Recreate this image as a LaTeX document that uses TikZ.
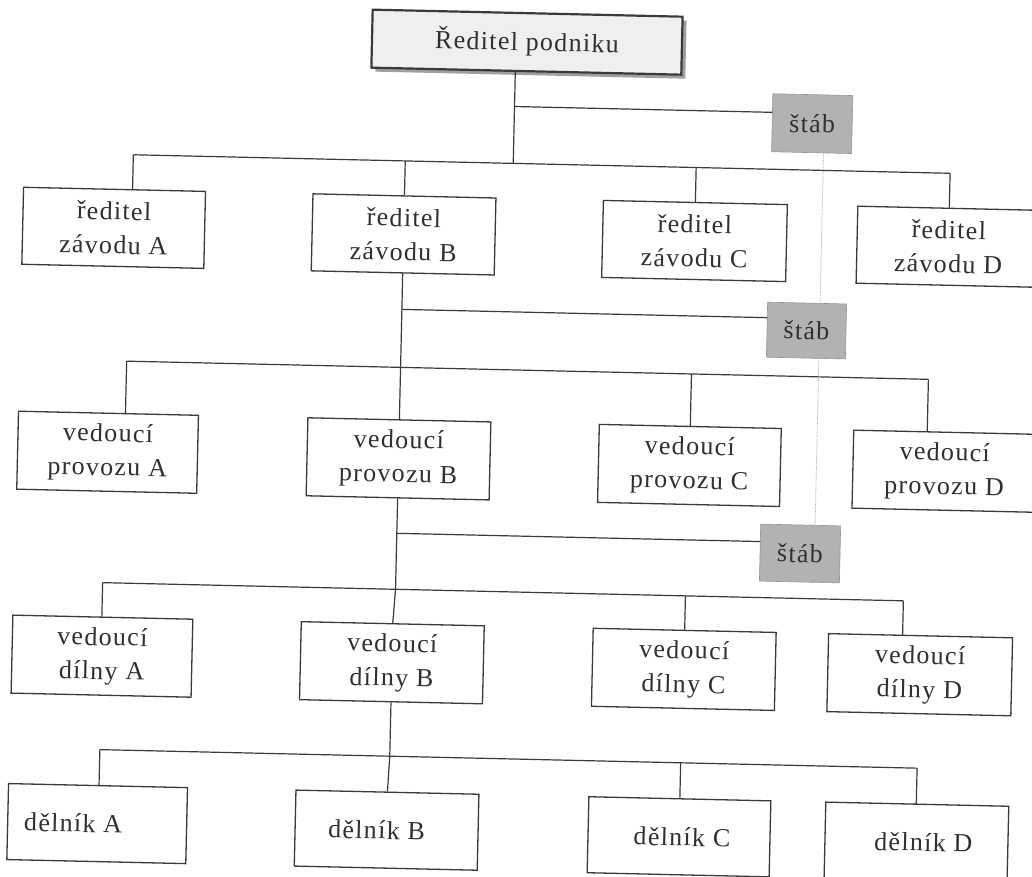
\documentclass[tikz,border=0pt]{standalone}
\usepackage{fontspec}
\setmainfont[LetterSpace=5]{Liberation Serif}
\usetikzlibrary{shadows}
\definecolor{ink}{HTML}{3A3A3A}
\definecolor{txt}{HTML}{303030}
\definecolor{stabfill}{HTML}{B2B2B2}
\definecolor{topfill}{HTML}{EFEFEF}
\tikzset{
  unit/.style={rectangle, draw=ink, line width=1.3pt, fill=white, inner sep=0pt,
    align=center, text=txt, font=\fontsize{26}{34}\selectfont},
  stabbox/.style={rectangle, fill=stabfill, draw=stabfill!85!black, line width=0.6pt,
    inner sep=0pt, text=txt, font=\fontsize{26}{30}\selectfont},
  topbox/.style={rectangle, draw=ink, line width=2.2pt, fill=topfill, inner sep=0pt,
    text=txt, font=\fontsize{26}{30}\selectfont,
    drop shadow={shadow xshift=4pt, shadow yshift=-4pt, fill=gray!75, opacity=1}},
  conn/.style={draw=ink, line width=1.2pt},
  dotline/.style={draw=gray!70, densely dotted, line width=0.8pt}
}
\newcommand{\shiftx}[1]{\hspace*{#1}}
\begin{document}
\begin{tikzpicture}[x=1pt,y=-1pt]
\clip (0,0) rectangle (1032,876);
\fill[white] (0,0) rectangle (1032,876);
\begin{scope}[rotate around={-1.3:(516,438)}, transform shape]
% top
\node[topbox, minimum width=310pt, minimum height=58pt] (top) at (518,42) {Ředitel podniku};
\node[stabbox, minimum width=80pt, minimum height=58pt] (s1) at (805,117) {štáb};
\node[stabbox, minimum width=79pt, minimum height=55pt] (s2) at (804,324) {štáb};
\node[stabbox, minimum width=80pt, minimum height=57pt] (s3) at (802.6,547) {štáb};
% row 1
\node[unit, minimum width=182pt, minimum height=77pt] (zA) at (109,237) {ředitel\\závodu A};
\node[unit, minimum width=183pt, minimum height=77pt] (zB) at (399,237) {ředitel\\závodu B};
\node[unit, minimum width=184pt, minimum height=77pt] (zC) at (690,237) {ředitel\\závodu C};
\node[unit, minimum width=183pt, minimum height=77pt] (zD) at (944,237) {ředitel\\závodu D};
% row 2
\node[unit, minimum width=180pt, minimum height=78pt] (pA) at (108,461.5) {vedoucí\\provozu A};
\node[unit, minimum width=183pt, minimum height=78pt] (pB) at (399,461.5) {vedoucí\\provozu B};
\node[unit, minimum width=182pt, minimum height=78pt] (pC) at (690,461.5) {vedoucí\\provozu C};
\node[unit, minimum width=183pt, minimum height=78pt] (pD) at (945,461.5) {vedoucí\\provozu D};
% row 3
\node[unit, minimum width=180pt, minimum height=78pt] (dA) at (107,665.5) {vedoucí\\dílny A};
\node[unit, minimum width=183pt, minimum height=78pt] (dB) at (397,665.5) {vedoucí\\dílny B};
\node[unit, minimum width=183pt, minimum height=78pt] (dC) at (689,665.5) {vedoucí\\dílny C};
\node[unit, minimum width=184pt, minimum height=78pt] (dD) at (925,665.5) {vedoucí\\dílny D};
% row 4
\node[unit, minimum width=179pt, minimum height=76pt] (wA) at (106,833) {\shiftx{-48pt}dělník A};
\node[unit, minimum width=183pt, minimum height=76pt] (wB) at (395.5,833) {\shiftx{-20pt}dělník B};
\node[unit, minimum width=182pt, minimum height=76pt] (wC) at (688,833) {\shiftx{6pt}dělník C};
\node[unit, minimum width=183pt, minimum height=76pt] (wD) at (925.5,833) {\shiftx{14pt}dělník D};

% junction coordinates
\coordinate (t0) at (507,71);
\coordinate (j1) at (507,106.6);
\coordinate (s1w) at (765,106.6);
\coordinate (b1) at (507,163.5);
\coordinate (b1a) at (127,163.5);
\coordinate (b1b) at (399,163.5);
\coordinate (b1c) at (690,163.5);
\coordinate (b1d) at (944,163.5);
\coordinate (zAt) at (127,198.5);

\coordinate (j2) at (399,312);
\coordinate (s2w) at (764.5,312);
\coordinate (b2a) at (125,370);
\coordinate (b2b) at (399,370);
\coordinate (b2c) at (690,370);
\coordinate (b2d) at (927,370);
\coordinate (pAt) at (125,422.5);
\coordinate (pDt) at (927,422.5);

\coordinate (j3) at (399,536);
\coordinate (s3w) at (762.6,536);
\coordinate (b3a) at (106,592);
\coordinate (b3b) at (399,592);
\coordinate (b3c) at (689,592);
\coordinate (b3d) at (907,592);
\coordinate (dAt) at (106,626.5);
\coordinate (dDt) at (907,626.5);

\coordinate (b4a) at (107,759);
\coordinate (b4b) at (397,759);
\coordinate (b4c) at (688,759);
\coordinate (b4d) at (924.5,759);
\coordinate (wAt) at (107,795);
\coordinate (wDt) at (924.5,795);

\coordinate (d1) at (817,146);
\coordinate (d2) at (817,296.5);
\coordinate (d3) at (817,351.5);
\coordinate (d4) at (817,518.5);

% connectors level 0 -> 1
\draw[conn] (t0) -- (b1);
\draw[conn] (j1) -- (s1w);
\draw[conn] (b1a) -- (b1d);
\draw[conn] (b1a) -- (zAt);
\draw[conn] (b1b) -- (zB.north);
\draw[conn] (b1c) -- (zC.north);
\draw[conn] (b1d) -- (zD.north);
% level 1 -> 2
\draw[conn] (zB.south) -- (b2b);
\draw[conn] (j2) -- (s2w);
\draw[conn] (b2a) -- (b2d);
\draw[conn] (b2a) -- (pAt);
\draw[conn] (b2b) -- (pB.north);
\draw[conn] (b2c) -- (pC.north);
\draw[conn] (b2d) -- (pDt);
% level 2 -> 3
\draw[conn] (pB.south) -- (b3b);
\draw[conn] (j3) -- (s3w);
\draw[conn] (b3a) -- (b3d);
\draw[conn] (b3a) -- (dAt);
\draw[conn] (b3b) -- (dB.north);
\draw[conn] (b3c) -- (dC.north);
\draw[conn] (b3d) -- (dDt);
% level 3 -> 4
\draw[conn] (dB.south) -- (b4b);
\draw[conn] (b4a) -- (b4d);
\draw[conn] (b4a) -- (wAt);
\draw[conn] (b4b) -- (wB.north);
\draw[conn] (b4c) -- (wC.north);
\draw[conn] (b4d) -- (wDt);
% staff dotted link
\draw[dotline] (d1) -- (d2);
\draw[dotline] (d3) -- (d4);
\end{scope}
\end{tikzpicture}
\end{document}
